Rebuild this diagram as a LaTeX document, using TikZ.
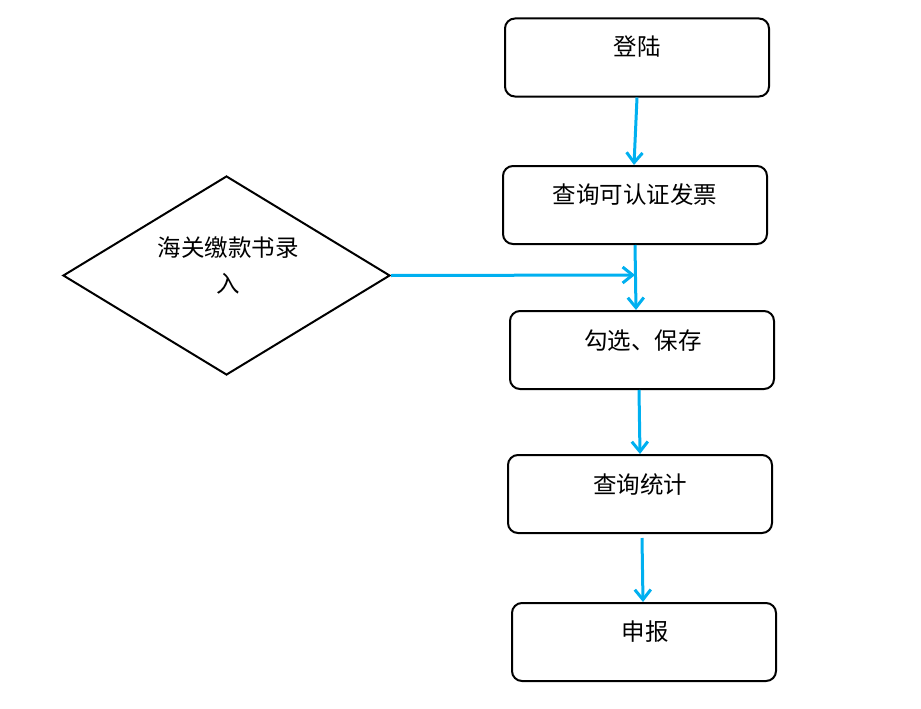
\documentclass[tikz,border=0pt]{standalone}
\usepackage{fontspec}
\newfontfamily\cjk{Noto Sans CJK SC}
\usetikzlibrary{arrows.meta,shapes.geometric}
\definecolor{flowcyan}{HTML}{00B0F0}
\tikzset{
  stepbox/.style={draw=black, line width=2pt, rounded corners=10pt, minimum width=264pt, minimum height=78pt, inner sep=0pt},
  txt/.style={font=\cjk\fontsize{23.5}{28}\selectfont, inner sep=0pt},
  flow/.style={draw=flowcyan, line width=3pt, -{Straight Barb[length=10pt,width=16pt,line width=3pt]}},
  decide/.style={draw=black, line width=2pt, diamond, minimum width=327pt, minimum height=199pt, inner sep=0pt}
}
\begin{document}
\begin{tikzpicture}[x=1pt,y=-1pt]
\useasboundingbox (0,0) rectangle (921,709);
\node[stepbox] (b1) at (637,57.5) {};
\node[stepbox] (b2) at (635,205) {};
\node[stepbox] (b3) at (642,350) {};
\node[stepbox] (b4) at (640,494) {};
\node[stepbox] (b5) at (644,642) {};
\node[decide] (d) at (226.5,275.5) {};
\node[txt] (t1) at (637,47) {登陆};
\node[txt] (t2) at (635,195) {查询可认证发票};
\node[txt] (t3) at (643,341) {勾选、保存};
\node[txt] (t4) at (640,485) {查询统计};
\node[txt] (t5) at (645,632) {申报};
\node[txt] (td1) at (228,248) {海关缴款书录};
\node[txt] (td2) at (228,284) {入};
\coordinate (m) at (635,275);
\draw[flow] (b1.south) -- ([xshift=-1pt]b2.north);
\draw[flow] (b2.south) -- ([xshift=-6pt]b3.north);
\draw[flow] (d.east) -- (m);
\draw[flow] ([xshift=-3pt]b3.south) -- (b4.north);
\draw[flow] ([xshift=2pt,yshift=-4pt]b4.south) -- ([xshift=-1pt]b5.north);
\end{tikzpicture}
\end{document}
